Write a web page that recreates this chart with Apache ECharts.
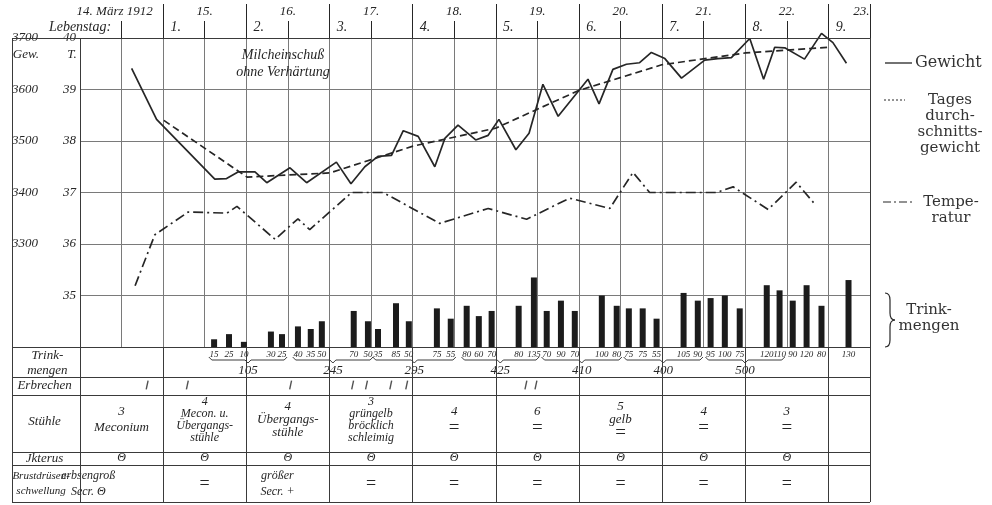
<!DOCTYPE html>
<html>
<head>
<meta charset="utf-8">
<script src="https://cdn.jsdelivr.net/npm/echarts@6/dist/echarts.min.js"></script>
<style>
  html, body { margin: 0; background: #fff; }
  #chart { width: 992px; height: 505px; }
</style>
</head>
<body>
<div id="chart"></div>
<script>
// Zeitachse: Stunden ab linkem Rand des Diagramms, ein Kästchen = 12 Stunden
const dateTickHours = [12, 36, 60, 84, 108, 132, 156, 180, 204];
const dateLabelHours = [10, 36, 60, 84, 108, 132, 156, 180, 204, 225.5];
const dateLabels = ['14. März 1912', '15.', '16.', '17.', '18.', '19.', '20.', '21.', '22.', '23.'];
const dayEdgeHours = [24, 48, 72, 96, 120, 144, 168, 192, 216];
const lifeLabelHours = [0, 27.6, 51.6, 75.6, 99.6, 123.6, 147.6, 171.6, 195.6, 219.6];
const lifeLabels = ['Lebenstag:', '1.', '2.', '3.', '4.', '5.', '6.', '7.', '8.', '9.'];

// Gewicht (g)
const weightHours = [14.9, 22.1, 38.9, 42.3, 45.6, 50.5, 53.9, 60.6, 65.4, 74.0, 78.2, 82.2, 86.0, 89.9, 93.3,
  97.6, 102.4, 105.3, 109.1, 114.2, 117.8, 120.9, 125.8, 129.6, 133.6, 138.0, 146.6, 149.8, 153.8, 157.7,
  161.5, 164.9, 168.8, 173.6, 180.3, 184.1, 188.0, 193.3, 197.3, 200.5, 203.4, 209.1, 214.0, 217.3, 221.2];
const weightGrams = [3641, 3542, 3426, 3427, 3440, 3440, 3419, 3448, 3419, 3459, 3417, 3450, 3470, 3472, 3520,
  3509, 3450, 3505, 3531, 3502, 3511, 3542, 3483, 3515, 3610, 3548, 3620, 3572, 3639, 3649,
  3652, 3672, 3660, 3622, 3657, 3660, 3662, 3699, 3620, 3682, 3681, 3659, 3709, 3691, 3651];

// Tagesdurchschnittsgewicht (g)
const avgHours = [24.2, 48.2, 72.1, 96.1, 120.0, 143.9, 167.9, 192.1, 216.1];
const avgGrams = [3540, 3430, 3438, 3490, 3525, 3598, 3648, 3671, 3682];

// Temperatur (°C)
const tempHours = [15.9, 21.6, 31.2, 42.4, 45.3, 56.3, 62.9, 66.3, 78.4, 87.5, 103.8, 117.8, 128.9,
  141.3, 152.9, 159.6, 164.4, 183.7, 188.5, 198.6, 206.7, 212.0];
const tempValues = [35.19, 36.18, 36.62, 36.6, 36.73, 36.09, 36.49, 36.28, 37.0, 37.0, 36.4, 36.69, 36.48,
  36.89, 36.69, 37.39, 37.0, 37.0, 37.11, 36.67, 37.2, 36.78];

// Trinkmengen (ccm) je Mahlzeit
const trinkHours = [38.7, 43.0, 47.3, 55.1, 58.3, 62.9, 66.6, 69.8, 79.0, 83.1, 86.0, 91.2, 94.9,
  103.0, 107.0, 111.6, 115.1, 118.8, 126.6, 131.0, 134.7, 138.8, 142.8, 150.6, 154.9, 158.4, 162.4, 166.4,
  174.2, 178.3, 182.0, 186.1, 190.4, 198.2, 201.9, 205.7, 209.7, 214.0, 221.8];
const trinkMl = [15, 25, 10, 30, 25, 40, 35, 50, 70, 50, 35, 85, 50,
  75, 55, 80, 60, 70, 80, 135, 70, 90, 70, 100, 80, 75, 75, 55,
  105, 90, 95, 100, 75, 120, 110, 90, 120, 80, 130];
// Tagessummen: erste und letzte Mahlzeit der Klammer
const sumFirst = [0, 5, 10, 15, 20, 25, 30];
const sumLast = [4, 9, 14, 19, 24, 29, 34];
const sumLabels = ['105', '245', '295', '425', '410', '400', '500'];

// Erbrechen
const erbrechenHours = [19.4, 31.0, 60.8, 78.7, 82.7, 89.7, 94.3, 128.7, 131.6];

// Tabelle
const colHours = [12, 36, 60, 84, 108, 132, 156, 180, 204];
const rowLabels = ['Trink-\nmengen', 'Erbrechen', 'Stühle', 'Jkterus', 'Brustdrüsen-\nschwellung'];
const stuhle = ['3\nMeconium', '4\nMecon. u.\nÜbergangs-\nstühle', '4\nÜbergangs-\nstühle',
  '3\ngrüngelb\nbröcklich\nschleimig', '4\n=', '6\n=', '5\ngelb\n=', '4\n=', '3\n='];
const ikterus = ['Θ', 'Θ', 'Θ', 'Θ', 'Θ', 'Θ', 'Θ', 'Θ', 'Θ'];
const brust = ['erbsengroß\nSecr. Θ', '=', 'größer\nSecr. +', '=', '=', '=', '=', '=', '='];

// ---- Layout (Rahmen-Koordinaten: x in Stunden, y in px unter der oberen Linie)
const FONT = '"Liberation Serif", "DejaVu Serif", serif';
const LEGEND_FONT = '"DejaVu Serif", serif';
const INK = '#262626';
const GRIDC = '#7a7a7a';
const FRAME_MIN = -19.6;
const rowEdges = [309, 339, 357, 414, 427, 464];
const rowLabelX = [-9.4, -10.2, -10.2, -10.2, -11.2];
const rowLabelY = [325, 348, 384, 420.5, 446];
const rowLabelSize = [13, 13, 13, 13, 11];
const brustShift = [-9.6, 0, -3, 0, 0, 0, 0, 0, 0];

const texts = [];
function addText(x, y, text, size, lh) {
  const n = text.split('\n').length;
  texts.push({ x, y, text, size: size || 12, lh: lh || (n >= 4 ? 12 : n === 3 ? 13 : 16) });
}
rowLabels.forEach((t, i) => addText(rowLabelX[i], rowLabelY[i], t, rowLabelSize[i], 15));
stuhle.forEach((t, i) => addText(colHours[i], 382, t, t.split('\n').length >= 4 ? 12 : 13));
ikterus.forEach((t, i) => addText(colHours[i], 420, t, 12));
brust.forEach((t, i) => addText(colHours[i] + brustShift[i], 446, t, 12));
addText(58.6, 26, 'Milcheinschuß\nohne Verhärtung', 14, 17);
addText(-15.6, 17, 'Gew.', 13);
addText(-2.3, 17, 'T.', 13);

const braces = sumFirst.map((f, i) => [trinkHours[f] - 1.5, trinkHours[sumLast[i]] + 1.5, i]);

const tableLines = rowEdges.map(y => ({ yAxis: y }))
  .concat([{ yAxis: 0 }, { xAxis: FRAME_MIN }, { xAxis: 0 }, { xAxis: 228 }])
  .concat(dayEdgeHours.map(h => [{ coord: [h, rowEdges[0]] }, { coord: [h, rowEdges[rowEdges.length - 1]] }]));

function pick(list, labels) {
  return v => {
    const i = list.findIndex(p => Math.abs(p - v) < 0.01);
    return i >= 0 ? labels[i] : '';
  };
}

const zip = (a, b) => a.map((x, i) => [x, b[i]]);
const italic = { fontStyle: 'italic', fontFamily: FONT, color: INK };

const chart = echarts.init(document.getElementById('chart'));

chart.setOption({
  backgroundColor: '#fff',
  animation: false,
  grid: [
    { left: 80, top: 38, width: 790, height: 309 },
    { left: 12, top: 38, width: 858, height: 464 }
  ],
  xAxis: [
    {
      gridIndex: 0, type: 'value', min: 0, max: 228, interval: 12,
      axisLine: { show: false }, axisTick: { show: false }, axisLabel: { show: false },
      splitLine: { show: true, lineStyle: { color: GRIDC, width: 1 } }
    },
    {
      gridIndex: 0, type: 'value', position: 'top', min: 0, max: 228,
      axisLine: { show: true, lineStyle: { color: INK, width: 1 } },
      axisTick: { show: true, customValues: dateTickHours, length: 17, lineStyle: { color: INK } },
      axisLabel: { customValues: dateLabelHours, formatter: pick(dateLabelHours, dateLabels),
        margin: 20, fontSize: 13, ...italic },
      splitLine: { show: false }
    },
    {
      gridIndex: 0, type: 'value', position: 'top', min: 0, max: 228,
      axisLine: { show: false },
      axisTick: { show: true, customValues: dayEdgeHours.concat([228]), length: 34, lineStyle: { color: INK } },
      axisLabel: { customValues: lifeLabelHours, formatter: pick(lifeLabelHours, lifeLabels),
        showMinLabel: true, margin: 4, fontSize: 14, ...italic },
      splitLine: { show: false }
    },
    { gridIndex: 1, type: 'value', min: FRAME_MIN, max: 228, show: false }
  ],
  yAxis: [
    {
      gridIndex: 0, type: 'value', position: 'left', min: 3100, max: 3700, interval: 100,
      axisLine: { show: false }, axisTick: { show: false },
      axisLabel: { margin: 42, fontSize: 13, formatter: v => (v >= 3300 ? v : ''), ...italic },
      splitLine: { show: true, lineStyle: { color: GRIDC, width: 1 } }
    },
    {
      gridIndex: 0, type: 'value', position: 'left', min: 34, max: 40, interval: 1,
      axisLine: { show: false }, axisTick: { show: false },
      axisLabel: { margin: 4, fontSize: 13, formatter: v => (v >= 35 ? v : ''), ...italic },
      splitLine: { show: false }
    },
    { gridIndex: 0, type: 'value', min: 0, max: 600, show: false },
    { gridIndex: 1, type: 'value', min: 0, max: 464, inverse: true, show: false }
  ],
  series: [
    {
      name: 'Gewicht', type: 'line', xAxisIndex: 0, yAxisIndex: 0, clip: false,
      data: zip(weightHours, weightGrams), symbol: 'none', silent: true,
      lineStyle: { color: INK, width: 1.7 }
    },
    {
      name: 'Tagesdurchschnittsgewicht', type: 'line', xAxisIndex: 0, yAxisIndex: 0,
      data: zip(avgHours, avgGrams), symbol: 'none', silent: true,
      lineStyle: { color: INK, width: 1.7, type: [7, 4] }
    },
    {
      name: 'Temperatur', type: 'line', xAxisIndex: 0, yAxisIndex: 1,
      data: zip(tempHours, tempValues), symbol: 'none', silent: true,
      lineStyle: { color: INK, width: 1.7, type: [10, 4, 2, 4] }
    },
    {
      name: 'Trinkmengen', type: 'bar', xAxisIndex: 0, yAxisIndex: 2,
      data: zip(trinkHours, trinkMl), barWidth: 6, silent: true,
      itemStyle: { color: '#1c1c1c' },
      label: { show: true, position: 'bottom', distance: 3, fontSize: 9,
        formatter: p => p.value[1], ...italic }
    },
    {
      name: 'Summen', type: 'custom', xAxisIndex: 3, yAxisIndex: 3, clip: false, silent: true,
      data: braces,
      renderItem: (params, api) => {
        const a = api.coord([api.value(0), 322]);
        const b = api.coord([api.value(1), 322]);
        const m = (a[0] + b[0]) / 2;
        const y = a[1];
        const ty = api.coord([0, 333])[1];
        return {
          type: 'group',
          children: [
            { type: 'polyline',
              shape: { points: [[a[0], y - 3], [a[0] + 3, y], [m - 3, y], [m, y + 3], [m + 3, y], [b[0] - 3, y], [b[0], y - 3]] },
              style: { stroke: INK, lineWidth: 0.9, fill: null } },
            { type: 'text', x: m, y: ty,
              style: { text: sumLabels[api.value(2)], fontSize: 13, fontStyle: 'italic', fontFamily: FONT,
                fill: INK, align: 'center', verticalAlign: 'middle' } }
          ]
        };
      }
    },
    {
      name: 'Texte', type: 'custom', xAxisIndex: 3, yAxisIndex: 3, clip: false, silent: true,
      data: texts.map(t => [t.x, t.y]),
      renderItem: (params, api) => {
        const t = texts[params.dataIndex];
        const p = api.coord([t.x, t.y]);
        return {
          type: 'text', x: p[0], y: p[1],
          style: {
            text: t.text.replace(/=/g, '{e|=}'),
            fontSize: t.size, fontStyle: 'italic', fontFamily: FONT, fill: INK,
            align: 'center', verticalAlign: 'middle', lineHeight: t.lh,
            rich: { e: { fontSize: t.size + 6, fontStyle: 'normal', fontFamily: FONT, fill: INK, lineHeight: t.lh } }
          }
        };
      }
    },
    {
      name: 'Erbrechen', type: 'scatter', xAxisIndex: 3, yAxisIndex: 3, silent: true,
      data: erbrechenHours.map(h => [h, 347]),
      symbol: 'rect', symbolSize: [1.4, 9], symbolRotate: -12,
      itemStyle: { color: INK },
      markLine: {
        silent: true, symbol: ['none', 'none'], label: { show: false },
        lineStyle: { color: '#3a3a3a', width: 1, type: 'solid' },
        emphasis: { disabled: true },
        data: tableLines
      }
    }
  ],
  graphic: [
    { type: 'line', shape: { x1: 885, y1: 63, x2: 912, y2: 63 }, style: { stroke: INK, lineWidth: 1.3 } },
    { type: 'text', x: 915, y: 63,
      style: { text: 'Gewicht', fontSize: 16, fontFamily: LEGEND_FONT, fill: '#333', verticalAlign: 'middle' } },
    { type: 'line', shape: { x1: 884, y1: 100, x2: 905, y2: 100 }, style: { stroke: INK, lineWidth: 1, lineDash: [2, 2] } },
    { type: 'text', x: 950, y: 92,
      style: { text: 'Tages\ndurch-\nschnitts-\ngewicht', fontSize: 15, lineHeight: 16, fontFamily: LEGEND_FONT,
        fill: '#333', align: 'center', verticalAlign: 'top' } },
    { type: 'line', shape: { x1: 883, y1: 202, x2: 915, y2: 202 }, style: { stroke: INK, lineWidth: 1.2, lineDash: [8, 3, 2, 3] } },
    { type: 'text', x: 951, y: 194,
      style: { text: 'Tempe-\nratur', fontSize: 15, lineHeight: 16, fontFamily: LEGEND_FONT,
        fill: '#333', align: 'center', verticalAlign: 'top' } },
    // geschweifte Klammer vor "Trinkmengen"
    { type: 'bezierCurve', shape: { x1: 885, y1: 293, cpx1: 890, cpy1: 293, x2: 890, y2: 300 }, style: { stroke: INK, lineWidth: 1.2, fill: null } },
    { type: 'line', shape: { x1: 890, y1: 300, x2: 890, y2: 313 }, style: { stroke: INK, lineWidth: 1.2 } },
    { type: 'bezierCurve', shape: { x1: 890, y1: 313, cpx1: 890, cpy1: 320, x2: 895, y2: 320 }, style: { stroke: INK, lineWidth: 1.2, fill: null } },
    { type: 'bezierCurve', shape: { x1: 895, y1: 320, cpx1: 890, cpy1: 320, x2: 890, y2: 327 }, style: { stroke: INK, lineWidth: 1.2, fill: null } },
    { type: 'line', shape: { x1: 890, y1: 327, x2: 890, y2: 340 }, style: { stroke: INK, lineWidth: 1.2 } },
    { type: 'bezierCurve', shape: { x1: 890, y1: 340, cpx1: 890, cpy1: 347, x2: 885, y2: 347 }, style: { stroke: INK, lineWidth: 1.2, fill: null } },
    { type: 'text', x: 929, y: 302,
      style: { text: 'Trink-\nmengen', fontSize: 15, lineHeight: 16, fontFamily: LEGEND_FONT,
        fill: '#333', align: 'center', verticalAlign: 'top' } }
  ]
});
</script>
</body>
</html>
